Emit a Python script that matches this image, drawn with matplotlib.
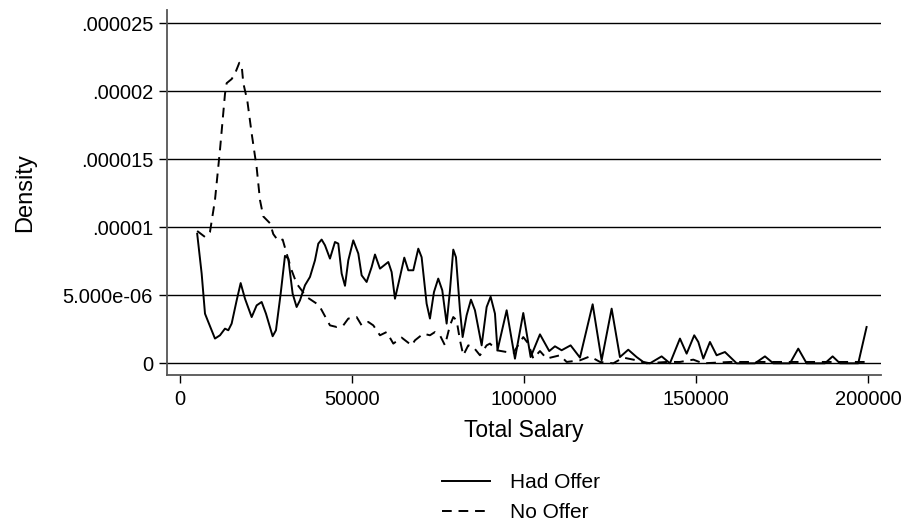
import matplotlib
matplotlib.use("Agg")
import matplotlib.pyplot as plt

plt.rcParams["font.family"] = ["Liberation Sans", "DejaVu Sans"]

# kernel density of total salary, by offer status
had_offer_x = [
    5000, 6300, 7270, 8230, 10170, 11630, 13080, 14050, 15020, 16480, 17640, 18900,
    20840, 22290, 23740, 25000, 26940, 27900, 29270, 30520, 31490, 32750, 33910, 34880,
    36340, 37790, 39240, 40210, 41180, 42150, 43600, 45060, 46020, 47000, 47970, 48930,
    50380, 51840, 52810, 54260, 55720, 56690, 58140, 60560, 61530, 62500, 63950, 65210,
    66370, 67830, 69280, 70250, 71700, 72670, 73840, 75080, 76250, 77520, 78490, 79450,
    80230, 81400, 82170, 83330, 84590, 85750, 87700, 89150, 90310, 91570, 92300, 94970,
    97380, 99800, 101940, 104650, 107350, 109010, 110950, 113560, 116280, 119970, 122580,
    125490, 127900, 130320, 132750, 134690, 136630, 140020, 142440, 145350, 147290, 149500,
    150680, 152140, 154070, 156010, 158430, 161830, 167150, 170060, 172480, 177330, 179740,
    182170, 187500, 189730, 191860, 197180, 198160, 199610,
]
had_offer_y = [
    9.53e-6, 6.6e-6, 3.65e-6, 3.04e-6, 1.82e-6, 2.06e-6, 2.55e-6, 2.43e-6, 2.92e-6, 4.63e-6, 5.9e-6, 4.75e-6,
    3.4e-6, 4.26e-6, 4.51e-6, 3.65e-6, 1.99e-6, 2.43e-6, 5.12e-6, 7.9e-6, 7.7e-6, 5.12e-6, 4.14e-6, 4.63e-6,
    5.74e-6, 6.35e-6, 7.57e-6, 8.8e-6, 9.1e-6, 8.68e-6, 7.7e-6, 8.92e-6, 8.8e-6, 6.6e-6, 5.7e-6, 7.57e-6,
    9.04e-6, 8.07e-6, 6.47e-6, 5.98e-6, 7.08e-6, 8.0e-6, 6.96e-6, 7.45e-6, 6.71e-6, 4.75e-6, 6.35e-6, 7.77e-6,
    6.84e-6, 6.84e-6, 8.43e-6, 7.8e-6, 4.39e-6, 3.29e-6, 5.24e-6, 6.23e-6, 5.37e-6, 2.92e-6, 5.37e-6, 8.36e-6,
    7.8e-6, 3.9e-6, 1.93e-6, 3.53e-6, 4.68e-6, 3.9e-6, 1.32e-6, 4.14e-6, 4.9e-6, 3.65e-6, 9.6e-7, 3.9e-6,
    3.4e-7, 3.7e-6, 4.6e-7, 2.13e-6, 9.0e-7, 1.25e-6, 9.6e-7, 1.32e-6, 4.2e-7, 4.34e-6, 2.2e-7,
    4.02e-6, 4.6e-7, 1.0e-6, 4.6e-7, 1e-7, 0, 5.1e-7, 0, 1.82e-6, 7.1e-7, 2.06e-6,
    1.57e-6, 3.5e-7, 1.57e-6, 5.9e-7, 8.3e-7, 0, 0, 5.1e-7, 0, 0, 1.08e-6,
    0, 0, 5.1e-7, 0, 0, 1.08e-6, 2.67e-6,
]

no_offer_x = [
    5000, 7270, 8720, 10170, 11630, 13080, 13570, 15020, 15990, 17250, 17930, 18410,
    19580, 20840, 22290, 23260, 24220, 26160, 27130, 28580, 29850, 31010, 32460, 33910,
    36820, 39730, 40700, 43600, 45540, 47480, 48930, 51360, 52810, 54750, 56200, 58140,
    60080, 62020, 64440, 67350, 68310, 70740, 72670, 74130, 75580, 77030, 78490, 79450,
    80420, 81400, 82360, 83810, 85270, 87210, 89150, 90120, 92060, 94970, 96900, 99800,
    101260, 102710, 104650, 106590, 110470, 112410, 116280, 119190, 122100, 125970, 128880,
    132750, 135660, 141480, 145350, 149230, 152000, 160000, 170000, 180000, 190000, 199610,
]
no_offer_y = [
    9.73e-6, 9.29e-6, 9.66e-6, 1.2e-5, 1.57e-5, 1.98e-5, 2.06e-5, 2.09e-5, 2.13e-5, 2.21e-5, 2.19e-5, 2.06e-5,
    1.93e-5, 1.69e-5, 1.44e-5, 1.2e-5, 1.08e-5, 1.03e-5, 9.5e-6, 9.0e-6, 9.1e-6, 8.07e-6, 6.84e-6, 5.86e-6,
    4.88e-6, 4.39e-6, 4.14e-6, 2.79e-6, 2.67e-6, 2.79e-6, 3.29e-6, 3.4e-6, 2.79e-6, 3.04e-6, 2.79e-6, 2.06e-6,
    2.3e-6, 1.45e-6, 1.89e-6, 1.32e-6, 1.69e-6, 2.18e-6, 2.06e-6, 2.3e-6, 2.06e-6, 1.32e-6, 2.79e-6, 3.4e-6,
    3.16e-6, 1.69e-6, 5.9e-7, 1.32e-6, 1.2e-6, 5.9e-7, 1.32e-6, 1.45e-6, 9.6e-7, 8.3e-7, 7.6e-7, 1.93e-6,
    1.45e-6, 3.5e-7, 9.0e-7, 3.5e-7, 5.9e-7, 1e-7, 2.2e-7, 5.1e-7, 1e-7, 0, 4.2e-7,
    2.2e-7, 0, 1e-7, 1e-7, 2.7e-7, 0, 1e-7, 1e-7, 1e-7, 1e-7, 1e-7,
]

x_ticks = [0, 50000, 100000, 150000, 200000]
y_ticks = [0, 5e-6, 1e-5, 1.5e-5, 2e-5, 2.5e-5]
y_tick_labels = ["0", "5.000e-06", ".00001", ".000015", ".00002", ".000025"]

fig = plt.figure(figsize=(9.08, 5.25), dpi=100)
ax = fig.add_axes([0.1839, 0.2857, 0.7860, 0.6953])

for y in y_ticks:
    ax.axhline(y, color="black", lw=1.0, zorder=1)

ax.plot(had_offer_x, had_offer_y, color="black", lw=1.4, label="Had Offer", zorder=3)
ax.plot(no_offer_x, no_offer_y, color="black", lw=1.4, dashes=(5, 3.5), label="No Offer", zorder=3)

ax.set_xlim(-3780, 203700)
ax.set_ylim(-8.6e-7, 2.598e-5)
ax.set_xticks(x_ticks)
ax.set_xticklabels([str(t) for t in x_ticks])
ax.set_yticks(y_ticks)
ax.set_yticklabels(y_tick_labels)

for side in ("top", "right"):
    ax.spines[side].set_visible(False)
for side in ("left", "bottom"):
    ax.spines[side].set_color("#555555")
    ax.spines[side].set_linewidth(1.3)

ax.tick_params(axis="both", length=6, width=1.0, color="black", labelsize=14.5, pad=4)
ax.tick_params(axis="x", pad=5)

ax.set_xlabel("Total Salary", fontsize=16.5, labelpad=7)
fig.text(25 / 908, 1 - 193 / 525, "Density", rotation=90, ha="center", va="center", fontsize=17)

ax.legend(loc="center", bbox_to_anchor=(0.496, -0.336), frameon=False, fontsize=15,
          handlelength=2.3, handletextpad=0.95, labelspacing=0.5, borderpad=0)

fig.savefig("out.png", dpi=100)
